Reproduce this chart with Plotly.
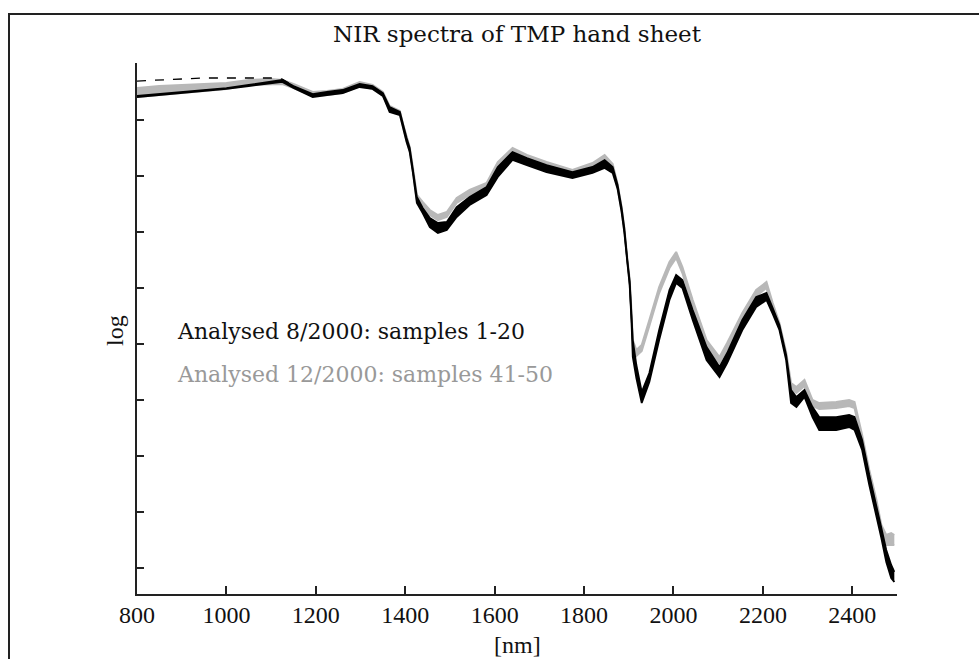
import plotly.graph_objects as go

# wavelength grid (nm)
wavelength = [800, 850, 900, 950, 1000, 1050, 1100, 1125, 1150, 1193, 1225, 1260, 1298, 1327, 1350,
              1365, 1388, 1395, 1403, 1410, 1417, 1426, 1439, 1455, 1473, 1493, 1515, 1544, 1582,
              1607, 1640, 1672, 1716, 1774, 1819, 1846, 1864, 1875, 1884, 1890, 1897, 1902, 1906,
              1909, 1917, 1929, 1946, 1968, 1991, 2006, 2020, 2043, 2074, 2103, 2120, 2154, 2185,
              2208, 2222, 2237, 2252, 2263, 2275, 2293, 2311, 2326, 2364, 2393, 2405, 2422, 2438,
              2454, 2465, 2476, 2487, 2494]

# samples 1-20 (8/2000): upper and lower envelope
black_upper = [1.0429, 1.0464, 1.0500, 1.0536, 1.0571, 1.0625, 1.0679, 1.0714, 1.0607, 1.0464, 1.0500,
               1.0536, 1.0643, 1.0607, 1.0482, 1.0232, 1.0143, 0.9911, 0.9679, 0.9500, 0.9143, 0.8625,
               0.8429, 0.8250, 0.8161, 0.8179, 0.8446, 0.8625, 0.8804, 0.9161, 0.9429, 0.9321, 0.9196,
               0.9071, 0.9161, 0.9286, 0.9161, 0.8839, 0.8429, 0.8071, 0.7482, 0.7125, 0.6518, 0.6071,
               0.5625, 0.5143, 0.5482, 0.6250, 0.6964, 0.7232, 0.7143, 0.6607, 0.5946, 0.5589, 0.5839,
               0.6429, 0.6839, 0.6911, 0.6643, 0.6339, 0.5804, 0.5179, 0.5054, 0.5179, 0.4875, 0.4696,
               0.4696, 0.4732, 0.4696, 0.4286, 0.3661, 0.3125, 0.2714, 0.2321, 0.2054, 0.1929]
black_lower = [1.0411, 1.0446, 1.0482, 1.0518, 1.0554, 1.0607, 1.0661, 1.0679, 1.0571, 1.0411, 1.0446,
               1.0482, 1.0589, 1.0554, 1.0429, 1.0143, 1.0089, 0.9839, 0.9607, 0.9429, 0.9071, 0.8518,
               0.8339, 0.8089, 0.7982, 0.8036, 0.8268, 0.8482, 0.8661, 0.8982, 0.9286, 0.9196, 0.9071,
               0.8964, 0.9054, 0.9143, 0.9054, 0.8768, 0.8357, 0.8000, 0.7411, 0.7054, 0.6429, 0.5768,
               0.5393, 0.4946, 0.5321, 0.6071, 0.6786, 0.7089, 0.7000, 0.6429, 0.5714, 0.5411, 0.5661,
               0.6250, 0.6661, 0.6786, 0.6536, 0.6250, 0.5714, 0.4946, 0.4875, 0.5054, 0.4696, 0.4464,
               0.4464, 0.4518, 0.4464, 0.4107, 0.3482, 0.2946, 0.2536, 0.2107, 0.1821, 0.1750]

# one sample of the 8/2000 set that lies higher at short wavelengths
outlier_wavelength = [800, 850, 900, 950, 1000, 1050, 1100, 1125, 1150]
outlier_values = [1.0696, 1.0714, 1.0732, 1.0750, 1.0750, 1.0750, 1.0750, 1.0732, 1.0607]

# samples 41-50 (12/2000): upper and lower envelope
gray_upper = [1.0571, 1.0607, 1.0625, 1.0643, 1.0661, 1.0714, 1.0732, 1.0714, 1.0643, 1.0500, 1.0518,
              1.0554, 1.0679, 1.0625, 1.0500, 1.0250, 1.0161, 0.9929, 0.9696, 0.9518, 0.9161, 0.8661,
              0.8536, 0.8393, 0.8304, 0.8357, 0.8607, 0.8750, 0.8875, 0.9250, 0.9500, 0.9375, 0.9250,
              0.9107, 0.9232, 0.9375, 0.9214, 0.8857, 0.8446, 0.8089, 0.7518, 0.7161, 0.6607, 0.6071,
              0.5893, 0.5982, 0.6429, 0.7018, 0.7464, 0.7643, 0.7375, 0.6786, 0.6071, 0.5768, 0.6018,
              0.6554, 0.6964, 0.7107, 0.6732, 0.6375, 0.5857, 0.5304, 0.5232, 0.5357, 0.5000, 0.4946,
              0.4964, 0.5000, 0.4964, 0.4375, 0.3750, 0.3214, 0.2768, 0.2589, 0.2625, 0.2589]
gray_lower = [1.0411, 1.0446, 1.0482, 1.0518, 1.0554, 1.0625, 1.0643, 1.0643, 1.0571, 1.0429, 1.0446,
              1.0482, 1.0607, 1.0554, 1.0429, 1.0179, 1.0107, 0.9857, 0.9625, 0.9446, 0.9089, 0.8571,
              0.8446, 0.8304, 0.8214, 0.8268, 0.8518, 0.8661, 0.8786, 0.9161, 0.9411, 0.9286, 0.9161,
              0.9018, 0.9143, 0.9286, 0.9125, 0.8786, 0.8375, 0.8018, 0.7446, 0.7089, 0.6518, 0.5964,
              0.5786, 0.5875, 0.6321, 0.6911, 0.7357, 0.7536, 0.7268, 0.6679, 0.5964, 0.5661, 0.5911,
              0.6446, 0.6857, 0.7000, 0.6625, 0.6286, 0.5768, 0.5196, 0.5125, 0.5250, 0.4893, 0.4839,
              0.4857, 0.4893, 0.4857, 0.4268, 0.3625, 0.3107, 0.2589, 0.2411, 0.2411, 0.2411]

x_ticks = [800, 1000, 1200, 1400, 1600, 1800, 2000, 2200, 2400]
y_ticks = [0.2, 0.3, 0.4, 0.5, 0.6, 0.7, 0.8, 0.9, 1.0]

title_text = "NIR spectra of TMP hand sheet"
legend_1 = "Analysed 8/2000: samples 1-20"
legend_2 = "Analysed 12/2000: samples 41-50"

GRAY = "#b8b8b8"
fig = go.Figure()
fig.add_trace(go.Scatter(x=wavelength, y=gray_lower, mode="lines",
                         line=dict(color=GRAY, width=2), showlegend=False, hoverinfo="skip"))
fig.add_trace(go.Scatter(x=wavelength, y=gray_upper, mode="lines", fill="tonexty",
                         fillcolor=GRAY, line=dict(color=GRAY, width=2), showlegend=False))
fig.add_trace(go.Scatter(x=wavelength, y=black_lower, mode="lines",
                         line=dict(color="black", width=1.8), showlegend=False, hoverinfo="skip"))
fig.add_trace(go.Scatter(x=wavelength, y=black_upper, mode="lines", fill="tonexty",
                         fillcolor="black", line=dict(color="black", width=1.8), showlegend=False))
fig.add_trace(go.Scatter(x=outlier_wavelength, y=outlier_values, mode="lines",
                         line=dict(color="black", width=1.3, dash="dash"), showlegend=False))

L, R, T, B = 137, 82, 63, 65
W, H = 979, 659
pw, ph = W - L - R, H - T - B

def px(xpix):
    return (xpix - L) / pw

def py(ypix):
    return 1 - (ypix - T) / ph

fig.update_layout(
    width=W, height=H,
    margin=dict(l=L, r=R, t=T, b=B),
    paper_bgcolor="white", plot_bgcolor="white",
    showlegend=False,
    xaxis=dict(range=[800, 2500], tickvals=x_ticks, ticks="inside", ticklen=8, tickwidth=1.5,
               tickcolor="#222", showline=True, linecolor="#222", linewidth=2, showgrid=False,
               zeroline=False, tickfont=dict(family="Liberation Serif", size=24, color="#111"),
               ticklabelstandoff=-2),
    yaxis=dict(range=[0.1536, 1.1018], tickvals=y_ticks, ticks="inside", ticklen=7, tickwidth=1.5,
               tickcolor="#222", showline=True, linecolor="#222", linewidth=2, showgrid=False,
               zeroline=False, showticklabels=False),
    shapes=[dict(type="rect", xref="paper", yref="paper", x0=px(9), x1=px(990), y0=py(670), y1=py(14),
                 line=dict(color="#222", width=2), fillcolor="rgba(0,0,0,0)", layer="above")],
    annotations=[
        dict(text=title_text, xref="paper", yref="paper", x=0.5, y=py(34), xanchor="center",
             yanchor="middle", showarrow=False, font=dict(family="DejaVu Serif", size=23, color="#111")),
        dict(text="[nm]", xref="paper", yref="paper", x=0.5, y=py(645), xanchor="center",
             yanchor="middle", showarrow=False, font=dict(family="Liberation Serif", size=24, color="#111")),
        dict(text="log", xref="paper", yref="paper", x=px(115), y=py(331), xanchor="center",
             yanchor="middle", textangle=-90, showarrow=False,
             font=dict(family="Liberation Serif", size=24, color="#111")),
        dict(text=legend_1, xref="paper", yref="paper", x=px(175), y=py(331), xanchor="left",
             yanchor="middle", showarrow=False, font=dict(family="DejaVu Serif", size=22, color="#111")),
        dict(text=legend_2, xref="paper", yref="paper", x=px(175), y=py(374), xanchor="left",
             yanchor="middle", showarrow=False, font=dict(family="DejaVu Serif", size=22, color="#999")),
    ],
)

fig.write_html("out.html")
